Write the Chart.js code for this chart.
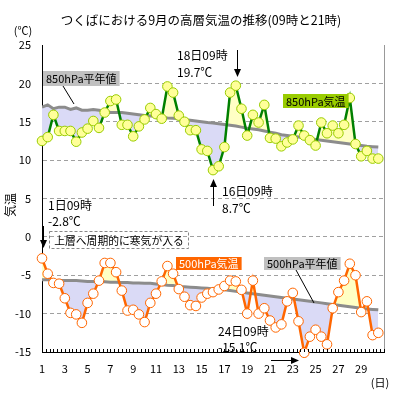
<!DOCTYPE html>
<html><head><meta charset="utf-8">
<script src="https://cdn.jsdelivr.net/npm/chart.js@4"></script>
<style>html,body{margin:0;padding:0;background:#fff;}canvas{display:block}</style>
</head><body>
<canvas id="c" width="399" height="400"></canvas>
<script>
// ---- data ----
const days = [1,2,3,4,5,6,7,8,9,10,11,12,13,14,15,16,17,18,19,20,21,22,23,24,25,26,27,28,29,30];
const obsHours = [9, 21];
const xTickLabels = ['1','3','5','7','9','11','13','15','17','19','21','23','25','27','29'];
const yTickValues = [-15,-10,-5,0,5,10,15,20,25];

// 850hPa observed (09h, 21h per day)
const t850 = [12.5,13.0, 15.9,13.8, 13.8,13.8, 12.4,13.6, 14.1,15.1,
              14.2,16.2, 17.7,17.9, 14.6,14.6, 13.1,14.4, 15.3,16.8,
              16.0,15.4, 19.6,18.8, 15.8,15.0, 13.9,13.9, 11.4,11.2,
              8.7,9.2, 11.7,18.8, 19.7,16.7, 13.2,15.9, 14.9,17.2,
              12.9,12.8, 11.8,12.3, 12.7,14.5, 13.2,12.6, 11.9,14.9,
              13.5,14.5, 13.5,14.6, 18.1,12.1, 10.5,11.2, 10.2,10.2];
// 850hPa normal
const n850 = [16.9,17.2, 16.7,16.9, 16.9,16.6, 16.8,16.5, 16.5,16.6,
              16.5,16.4, 16.2,16.2, 16.2,16.1, 16.0,15.9, 15.8,15.75,
              15.7,15.6, 15.5,15.45, 15.4,15.3, 15.2,15.1, 15.0,14.9,
              14.85,14.75, 14.65,14.55, 14.45,14.3, 14.15,14.05, 13.95,13.8,
              13.65,13.5, 13.3,13.2, 13.1,13.0, 12.9,12.8, 12.7,12.6,
              12.5,12.4, 12.3,12.2, 12.1,12.0, 11.9,11.8, 11.75,11.7];
// 500hPa observed
const t500 = [-2.8,-4.8, -6.0,-6.1, -8.0,-9.9, -10.1,-11.2, -8.6,-7.4,
              -5.7,-3.4, -3.4,-4.6, -7.0,-9.6, -9.5,-10.1, -11.1,-8.6,
              -7.4,-5.8, -3.8,-4.8, -6.8,-7.8, -8.9,-9.0, -7.9,-7.4,
              -7.2,-6.85, -6.4,-5.7, -5.8,-6.9, -10.0,-5.7, -10.0,-9.3,
              -10.9,-11.8, -11.4,-8.4, -7.3,-11.0, -15.1,-13.0, -12.1,-13.0,
              -14.0,-9.3, -7.2,-5.7, -3.5,-5.0, -9.8,-8.4, -12.8,-12.5];
// 500hPa normal
const n500 = [-5.6,-5.6, -5.65,-5.7, -5.7,-5.7, -5.7,-5.75, -5.8,-5.8,
              -5.85,-5.85, -5.9,-5.9, -5.95,-5.95, -6.0,-6.0, -6.05,-6.05,
              -6.15,-6.2, -6.3,-6.35, -6.45,-6.5, -6.55,-6.6, -6.65,-6.7,
              -6.8,-6.85, -6.9,-7.0, -7.1,-7.2, -7.3,-7.4, -7.5,-7.6,
              -7.7,-7.8, -7.9,-8.0, -8.1,-8.2, -8.3,-8.4, -8.5,-8.6,
              -8.7,-8.8, -8.9,-9.0, -9.1,-9.2, -9.3,-9.4, -9.45,-9.5];

// x positions: day + fraction of day after 09h
const xs = [];
days.forEach(d => obsHours.forEach(h => xs.push(d + (h - 9) / 24)));
const pts = arr => arr.map((v, i) => ({x: xs[i], y: v}));

const JP = '"Noto Sans CJK JP", "Noto Sans", sans-serif';

function arrow(ctx, x1, y1, x2, y2) {
  ctx.save();
  ctx.strokeStyle = '#000'; ctx.fillStyle = '#000'; ctx.lineWidth = 1;
  const a = Math.atan2(y2 - y1, x2 - x1);
  const hl = 8, hw = 3.5;
  const bx = x2 - hl * Math.cos(a), by = y2 - hl * Math.sin(a);
  ctx.beginPath(); ctx.moveTo(x1, y1); ctx.lineTo(bx, by); ctx.stroke();
  ctx.beginPath();
  ctx.moveTo(x2, y2);
  ctx.lineTo(bx + hw * Math.sin(a), by - hw * Math.cos(a));
  ctx.lineTo(bx - hw * Math.sin(a), by + hw * Math.cos(a));
  ctx.closePath(); ctx.fill();
  ctx.restore();
}
function boxLabel(ctx, text, x, y, h, bg, fg) {
  ctx.save();
  ctx.font = '11px ' + JP;
  const w = ctx.measureText(text).width + 6;
  ctx.fillStyle = bg; ctx.fillRect(x, y, w, h);
  ctx.fillStyle = fg; ctx.textBaseline = 'middle'; ctx.textAlign = 'left';
  ctx.fillText(text, x + 3, y + h / 2 + 0.5);
  ctx.restore();
}
function txt(ctx, s, x, y, size, align) {
  ctx.save();
  ctx.font = size + 'px ' + JP; ctx.fillStyle = '#000';
  ctx.textBaseline = 'middle'; ctx.textAlign = align || 'left';
  ctx.fillText(s, x, y);
  ctx.restore();
}

const annot = {
  id: 'annot',
  afterDatasetsDraw(chart) {
    const ctx = chart.ctx, ca = chart.chartArea, xs_ = chart.scales.x;
    // right frame
    ctx.save();
    ctx.strokeStyle = '#999'; ctx.lineWidth = 1;
    ctx.beginPath(); ctx.moveTo(ca.right + 0.5, ca.top); ctx.lineTo(ca.right + 0.5, ca.bottom); ctx.stroke();
    // small ticks on x axis (every 1/3 day)
    ctx.strokeStyle = '#000';
    ctx.beginPath();
    for (let k = 0; k <= 90; k++) {
      const px = Math.round(xs_.getPixelForValue(1 + k / 3)) + 0.5;
      ctx.moveTo(px, ca.bottom); ctx.lineTo(px, ca.bottom - 3);
    }
    ctx.stroke();
    ctx.restore();

    // title & axis captions
    txt(ctx, 'つくばにおける9月の高層気温の推移(09時と21時)', 201, 20, 12.5, 'center');
    txt(ctx, '(℃)', 23, 31, 11, 'center');
    txt(ctx, '(日)', 380, 383, 11, 'center');
    ctx.save();
    ctx.translate(10, 205); ctx.rotate(-Math.PI / 2);
    txt(ctx, '気温', 0, 0, 12, 'center');
    ctx.restore();

    // labels
    boxLabel(ctx, '850hPa平年値', 43, 71, 15, '#c0c0c0', '#000');
    boxLabel(ctx, '850hPa気温', 283, 94, 14, '#99cc00', '#000');
    boxLabel(ctx, '500hPa気温', 176, 257, 13, '#ff6600', '#fff');
    boxLabel(ctx, '500hPa平年値', 264, 257, 13, '#c0c0c0', '#000');
    ctx.save();
    ctx.strokeStyle = '#000'; ctx.lineWidth = 1;
    ctx.beginPath(); ctx.moveTo(63, 86); ctx.lineTo(74, 104); ctx.stroke();
    ctx.beginPath(); ctx.moveTo(296, 270); ctx.lineTo(314, 303); ctx.stroke();
    ctx.restore();

    // annotations
    txt(ctx, '18日09時', 177, 55, 12);
    txt(ctx, '19.7℃', 177, 72, 12);
    arrow(ctx, 237.5, 50, 237.5, 77);

    txt(ctx, '16日09時', 222, 191, 12);
    txt(ctx, '8.7℃', 222, 208, 12);
    arrow(ctx, 213.5, 206, 213.5, 179);

    txt(ctx, '1日09時', 48, 205, 12);
    txt(ctx, '-2.8℃', 48, 221, 12);
    arrow(ctx, 43.5, 226, 43.5, 248);

    txt(ctx, '24日09時', 218, 331, 12);
    txt(ctx, '-15.1℃', 218, 347, 12);
    arrow(ctx, 271, 360.5, 299, 360.5);

    ctx.save();
    ctx.strokeStyle = '#888'; ctx.lineWidth = 1; ctx.setLineDash([3, 2]);
    ctx.strokeRect(49.5, 231.5, 139, 17);
    ctx.restore();
    txt(ctx, '上層へ周期的に寒気が入る', 119, 240.5, 10.8, 'center');
  }
};

new Chart(document.getElementById('c'), {
  type: 'line',
  data: {
    datasets: [
      {label: '850hPa気温', data: pts(t850), borderColor: '#008000', borderWidth: 2.5,
       pointRadius: 4.8, pointBackgroundColor: '#ffff99', pointBorderColor: '#99cc00', pointBorderWidth: 1,
       fill: {target: 1, above: '#ffffc4', below: '#dadaf6'}, order: 0, clip: false, tension: 0},
      {label: '850hPa平年値', data: pts(n850), borderColor: '#8c8c8c', borderWidth: 3,
       pointRadius: 0, fill: false, order: 1, tension: 0},
      {label: '500hPa気温', data: pts(t500), borderColor: '#ff6600', borderWidth: 2.5,
       pointRadius: 4.8, pointBackgroundColor: '#ffffff', pointBorderColor: '#ff6600', pointBorderWidth: 1,
       fill: {target: 3, above: '#ffffc4', below: '#dadaf6'}, order: 0, clip: false, tension: 0},
      {label: '500hPa平年値', data: pts(n500), borderColor: '#8c8c8c', borderWidth: 3,
       pointRadius: 0, fill: false, order: 1, tension: 0}
    ]
  },
  options: {
    responsive: false,
    animation: false,
    layout: {padding: {top: 45, right: 15, bottom: 0, left: 0}},
    plugins: {
      legend: {display: false},
      tooltip: {enabled: false},
      title: {display: false},
      filler: {drawTime: 'beforeDatasetsDraw'}
    },
    scales: {
      x: {
        type: 'linear', min: 1, max: 31,
        afterFit: s => { s.height = 48; },
        afterBuildTicks: s => { s.ticks = xTickLabels.map(v => ({value: +v})); },
        ticks: {autoSkip: false, maxRotation: 0, padding: 2, color: '#000',
                font: {size: 11, family: JP}, callback: v => String(v)},
        grid: {display: false},
        border: {display: true, color: '#000', width: 1}
      },
      y: {
        min: -15, max: 25,
        afterFit: s => { s.width = 42; },
        afterBuildTicks: s => { s.ticks = yTickValues.map(v => ({value: v})); },
        ticks: {padding: 11, color: '#000', font: {size: 11, family: JP}},
        grid: {drawTicks: false,
               color: c => (c.tick && (c.tick.value === -15 || c.tick.value === 25)) ? 'rgba(0,0,0,0)' : '#a0a0a0'},
        border: {display: true, color: '#000', width: 1, dash: [4, 3]}
      }
    }
  },
  plugins: [annot]
});
</script>
</body></html>
